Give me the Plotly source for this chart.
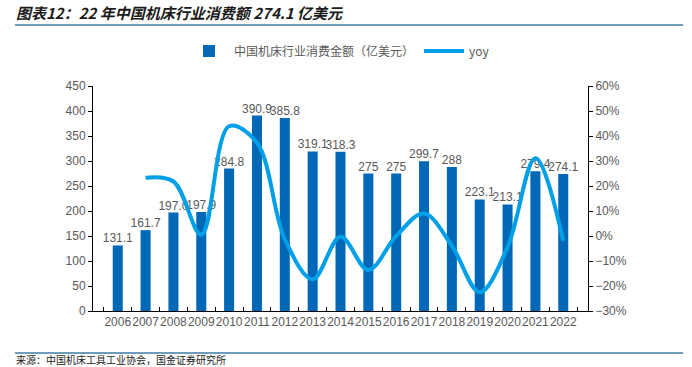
import plotly.graph_objects as go

years = ["2006","2007","2008","2009","2010","2011","2012","2013","2014","2015","2016","2017","2018","2019","2020","2021","2022"]
consumption = [131.1,161.7,197.0,197.9,284.8,390.9,385.8,319.1,318.3,275,275,299.7,288,223.1,213.1,279.4,274.1]
consumption_labels = ["131.1","161.7","197.0","197.9","284.8","390.9","385.8","319.1","318.3","275","275","299.7","288","223.1","213.1","279.4","274.1"]
yoy_years = years[1:]
yoy = [23.3,21.8,0.5,43.9,37.3,-1.3,-17.3,-0.3,-13.6,0.0,9.0,-3.9,-22.5,-4.5,31.1,-1.9]

L, R, T, B = 93, 588, 86, 311
W, H = 692, 367
def px(x): return (x - L) / (R - L)
def py(y): return (B - y) / (B - T)

gray = "#595959"
font = "Liberation Sans, Arial, sans-serif"

fig = go.Figure()
fig.add_trace(go.Bar(
    x=years, y=consumption, name="中国机床行业消费金额（亿美元）",
    marker=dict(color="#0068B7", line=dict(width=0)),
    width=0.36,
))
fig.add_trace(go.Scatter(
    x=yoy_years, y=yoy, name="yoy", yaxis="y2", mode="lines",
    line=dict(color="#00A0E9", width=4, shape="spline", smoothing=1.0),
))
fig.add_trace(go.Scatter(
    x=years, y=consumption, mode="text", text=consumption_labels,
    textposition="top center", showlegend=False, cliponaxis=False, hoverinfo="skip",
    textfont=dict(color=gray, size=12, family=font),
))

fig.update_layout(
    width=W, height=H,
    margin=dict(l=L, r=W - R, t=T, b=H - B),
    paper_bgcolor="white", plot_bgcolor="white",
    font=dict(family=font, color=gray, size=12),
    showlegend=True,
    legend=dict(orientation="h", x=px(184), y=py(51), xanchor="left", yanchor="middle",
                font=dict(size=12, color=gray, family="Noto Sans CJK SC, " + font),
                itemwidth=40, bgcolor="rgba(0,0,0,0)"),
    xaxis=dict(type="category", showline=True, linecolor="black", linewidth=1,
               ticks="inside", tickson="boundaries", ticklen=4, tickcolor="black",
               tickangle=0, tickfont=dict(size=12, color=gray), showgrid=False, zeroline=False),
    yaxis=dict(range=[0, 450], dtick=50, showline=True, linecolor="black", linewidth=1,
               ticks="outside", ticklen=4, tickcolor="black", showgrid=False, zeroline=False,
               tickfont=dict(size=12, color=gray)),
    yaxis2=dict(range=[-30, 60], dtick=10, overlaying="y", side="right", ticksuffix="%",
                showline=True, linecolor="black", linewidth=1, ticks="outside", ticklen=4,
                tickcolor="black", showgrid=False, zeroline=False,
                tickfont=dict(size=12, color=gray)),
    shapes=[
        dict(type="line", xref="paper", yref="paper", x0=px(15), x1=px(683), y0=py(25), y1=py(25),
             line=dict(color="#3E7CA6", width=1.5)),
        dict(type="line", xref="paper", yref="paper", x0=px(15), x1=px(683), y0=py(353), y1=py(353),
             line=dict(color="#3E7CA6", width=1.5)),
    ],
    annotations=[
        dict(text="<b><i>图表12：22 年中国机床行业消费额 274.1 亿美元</i></b>", xref="paper", yref="paper",
             x=px(14), y=py(13), xanchor="left", yanchor="middle", showarrow=False,
             font=dict(size=15, color="#1a1a1a", family="Noto Sans CJK SC")),
        dict(text="来源：中国机床工具工业协会，国金证券研究所", xref="paper", yref="paper",
             x=px(15), y=py(359.5), xanchor="left", yanchor="middle", showarrow=False, borderpad=0,
             font=dict(size=10, color="#1a1a1a", family="Noto Sans CJK SC")),
    ],
)

fig.write_html("out.html", config={"displayModeBar": False},
               post_script="document.body.style.margin='0';document.body.style.padding='0';")
